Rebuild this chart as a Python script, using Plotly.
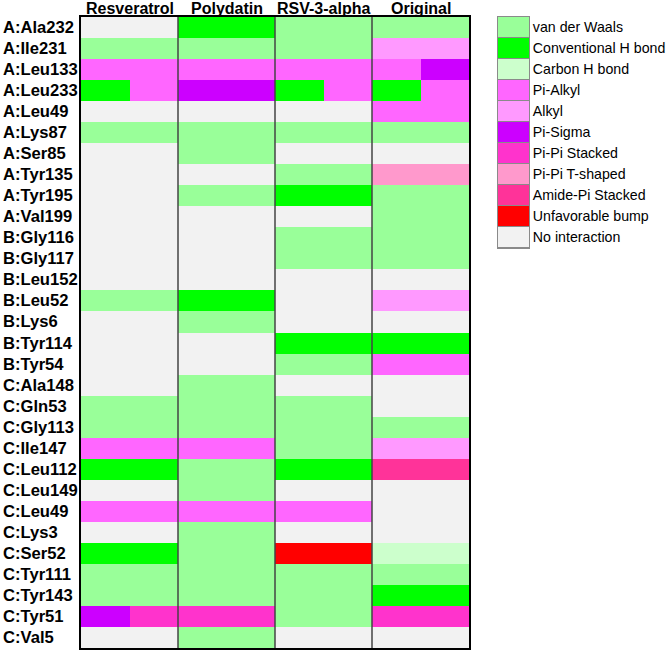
import plotly.graph_objects as go

# ---------------- data ----------------
categories = ["van der Waals", "Conventional H bond", "Carbon H bond", "Pi-Alkyl", "Alkyl",
              "Pi-Sigma", "Pi-Pi Stacked", "Pi-Pi T-shaped", "Amide-Pi Stacked",
              "Unfavorable bump", "No interaction"]
codes = ["V", "H", "C", "PA", "AL", "PS", "PP", "PT", "AP", "UB", "N"]
colors = ["#99FF99", "#00FF00", "#CCFFCC", "#FF66FF", "#FF99FF", "#CC00FF",
          "#FF33CC", "#FF99CC", "#FF3399", "#FF0000", "#F2F2F2"]

residues = ["A:Ala232", "A:Ile231", "A:Leu133", "A:Leu233", "A:Leu49", "A:Lys87", "A:Ser85",
            "A:Tyr135", "A:Tyr195", "A:Val199",
            "B:Gly116", "B:Gly117", "B:Leu152", "B:Leu52", "B:Lys6", "B:Tyr114", "B:Tyr54",
            "C:Ala148", "C:Gln53", "C:Gly113", "C:Ile147", "C:Leu112", "C:Leu149", "C:Leu49",
            "C:Lys3", "C:Ser52", "C:Tyr111", "C:Tyr143", "C:Tyr51", "C:Val5"]

compounds = ["Resveratrol", "Polydatin", "RSV-3-alpha", "Original"]

resveratrol = ["N", "V", "PA", "H/PA", "N", "V", "N", "N", "N", "N",
               "N", "N", "N", "V", "N", "N", "N",
               "N", "V", "V", "PA", "H", "N", "PA", "N", "H", "V", "V", "PS/PP", "N"]
polydatin = ["H", "V", "PA", "PS", "N", "V", "V", "N", "V", "N",
             "N", "N", "N", "H", "V", "N", "N",
             "V", "V", "V", "PA", "V", "V", "PA", "V", "V", "V", "V", "PP", "V"]
rsv3alpha = ["V", "V", "PA", "H/PA", "N", "V", "N", "V", "H", "N",
             "V", "V", "N", "N", "N", "H", "V",
             "N", "V", "V", "V", "H", "N", "PA", "N", "UB", "V", "V", "V", "N"]
original = ["V", "AL", "PA/PS", "H/PA", "PA", "V", "N", "PT", "V", "V",
            "V", "V", "N", "AL", "N", "H", "PA",
            "N", "N", "V", "AL", "AP", "N", "N", "N", "C", "V", "H", "PP", "N"]

series = [resveratrol, polydatin, rsv3alpha, original]

# ---------------- build grid (each compound = 2 half-columns) ----------------
n = len(categories)
idx = {c: i for i, c in enumerate(codes)}
z = []
for r in range(len(residues)):
    row = []
    for s in series:
        parts = s[r].split("/")
        if len(parts) == 1:
            parts = parts * 2
        row += [idx[p] for p in parts]
    z.append(row)

colorscale = []
for i, c in enumerate(colors):
    colorscale.append([i / n, c])
    colorscale.append([(i + 1) / n, c])

ncols = 2 * len(compounds)
FONT = "Liberation Sans, Arial, sans-serif"

fig = go.Figure()
fig.add_trace(go.Heatmap(
    z=z, x=list(range(ncols)), y=list(range(len(residues))),
    colorscale=colorscale, zmin=-0.5, zmax=n - 0.5, showscale=False,
    hoverinfo="skip", xaxis="x", yaxis="y"))

# legend as a small heatmap
fig.add_trace(go.Heatmap(
    z=[[i] for i in range(n)], x=[0], y=categories,
    colorscale=colorscale, zmin=-0.5, zmax=n - 0.5, showscale=False,
    ygap=1, hoverinfo="skip", xaxis="x2", yaxis="y2"))

L, R, T, B = 81, 137, 17, 2
W, H = 666, 650
pw = W - L - R
ph = H - T - B
main_right = (469 - L) / pw
leg_left = (498 - L) / pw
leg_bottom = 1 - (248 - T) / ph

fig.update_layout(
    width=W, height=H,
    margin=dict(l=L, r=R, t=T, b=B, pad=0),
    paper_bgcolor="white", plot_bgcolor="#8a8a8a",
    font=dict(family=FONT, color="black"),
    showlegend=False,
    xaxis=dict(domain=[0, main_right], range=[-0.5, ncols - 0.5], showticklabels=False,
               showgrid=False, zeroline=False, showline=True, mirror=True,
               linecolor="black", linewidth=2, ticks=""),
    yaxis=dict(domain=[0, 1], range=[len(residues) - 0.5, -0.5], showticklabels=False,
               showgrid=False, zeroline=False, showline=True, mirror=True,
               linecolor="black", linewidth=2, ticks=""),
    xaxis2=dict(domain=[leg_left, 1], anchor="y2", range=[-0.5, 0.5], showticklabels=False,
                showgrid=False, zeroline=False, showline=True, mirror=True,
                linecolor="#8a8a8a", linewidth=1, ticks=""),
    yaxis2=dict(domain=[leg_bottom, 1], anchor="x2", side="right", autorange="reversed",
                showgrid=False, zeroline=False, showline=True, mirror=True,
                linecolor="#8a8a8a", linewidth=1, ticks="",
                tickfont=dict(family=FONT, size=14.2, color="black"), ticklabelstandoff=0),
)

# separators between compounds
for c in range(1, len(compounds)):
    fig.add_shape(type="line", xref="x", yref="y domain", x0=2 * c - 0.5, x1=2 * c - 0.5,
                  y0=0, y1=1, line=dict(color="#444444", width=1.5), layer="above")

# compound titles
for c, name in enumerate(compounds):
    fig.add_annotation(x=2 * c + 0.5, xref="x", y=1 + T / ph, yref="paper", yanchor="top",
                       text="<b>%s</b>" % name, showarrow=False, borderpad=0, yshift=1,
                       font=dict(family=FONT, size=16, color="black"))

# residue labels (left aligned)
for r, lab in enumerate(residues):
    fig.add_annotation(x=-(L - 1) / pw, xref="paper", xanchor="left", y=r, yref="y",
                       text="<b>%s</b>" % lab, showarrow=False,
                       font=dict(family=FONT, size=16.6, color="black"))

fig.write_html("out.html")
